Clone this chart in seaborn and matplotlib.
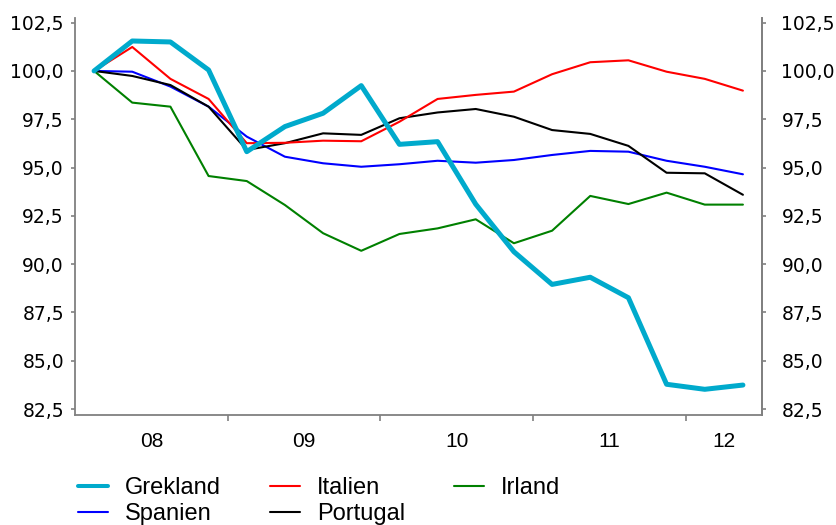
import matplotlib
matplotlib.use("Agg")
import matplotlib.pyplot as plt
from matplotlib import font_manager
from matplotlib.ticker import FixedLocator, FuncFormatter
import seaborn as sns
import pandas as pd

quarters = ["2008Q1", "2008Q2", "2008Q3", "2008Q4", "2009Q1", "2009Q2", "2009Q3", "2009Q4",
            "2010Q1", "2010Q2", "2010Q3", "2010Q4", "2011Q1", "2011Q2", "2011Q3", "2011Q4",
            "2012Q1", "2012Q2"]
grekland = [100.0, 101.55, 101.5, 100.05, 95.82, 97.12, 97.81, 99.24, 96.2, 96.34,
            93.1, 90.64, 88.95, 89.32, 88.26, 83.78, 83.52, 83.74]
italien = [100.0, 101.24, 99.59, 98.55, 96.26, 96.28, 96.39, 96.36, 97.37, 98.55,
           98.76, 98.93, 99.83, 100.45, 100.55, 99.96, 99.59, 98.98]
irland = [100.0, 98.36, 98.15, 94.56, 94.30, 93.06, 91.6, 90.69, 91.56, 91.85,
          92.32, 91.08, 91.73, 93.53, 93.11, 93.70, 93.08, 93.08]
spanien = [100.0, 99.96, 99.19, 98.15, 96.6, 95.56, 95.22, 95.04, 95.17, 95.35,
           95.25, 95.39, 95.65, 95.86, 95.82, 95.35, 95.04, 94.65]
portugal = [100.0, 99.74, 99.27, 98.15, 95.91, 96.26, 96.77, 96.69, 97.55, 97.85,
            98.03, 97.63, 96.94, 96.74, 96.12, 94.73, 94.70, 93.59]
year_labels = ["08", "09", "10", "11", "12"]
y_ticks = [82.5, 85.0, 87.5, 90.0, 92.5, 95.0, 97.5, 100.0, 102.5]

series = {"Grekland": grekland, "Italien": italien, "Irland": irland,
          "Spanien": spanien, "Portugal": portugal}
colors = {"Grekland": "#00AACC", "Italien": "#FF0000", "Irland": "#008000",
          "Spanien": "#0000FF", "Portugal": "#000000"}
widths = {"Grekland": 3.6, "Italien": 1.5, "Irland": 1.5, "Spanien": 1.5, "Portugal": 1.5}

sns.set_theme(style="white")
avail = {f.name for f in font_manager.fontManager.ttflist}
sansf = "Liberation Sans" if "Liberation Sans" in avail else "DejaVu Sans"
plt.rcParams["font.family"] = ["DejaVu Sans"]
plt.rcParams["text.color"] = "black"

rows = []
for name, vals in series.items():
    for i, (q, v) in enumerate(zip(quarters, vals)):
        rows.append({"quarter": q, "pos": i + 0.5, "value": v, "land": name})
df = pd.DataFrame(rows)

fig = plt.figure(figsize=(8.36, 5.25), dpi=100)
ax = fig.add_axes([75 / 836, 1 - 415 / 525, (762 - 75) / 836, (415 - 18) / 525])

draw_order = ["Irland", "Spanien", "Portugal", "Italien", "Grekland"]
for name in draw_order:
    sub = df[df["land"] == name]
    sns.lineplot(data=sub, x="pos", y="value", ax=ax, color=colors[name],
                 linewidth=widths[name], label=name, legend=False)

ax.set_xlim(0, len(quarters))
ax.set_ylim(82.19, 102.74)
ax.set_xlabel("")
ax.set_ylabel("")

years = sorted(set(q[:4] for q in quarters))
bounds = [i for i, q in enumerate(quarters) if q.endswith("Q1") and i > 0]
centres = []
for y in years:
    idx = [i for i, q in enumerate(quarters) if q.startswith(y)]
    centres.append((idx[0] + idx[-1] + 1) / 2)
ax.xaxis.set_major_locator(FixedLocator(bounds))
ax.xaxis.set_major_formatter(FuncFormatter(lambda v, p: ""))
ax.xaxis.set_minor_locator(FixedLocator(centres))
ax.set_xticklabels(year_labels, minor=True)
ax.tick_params(axis="x", which="major", direction="out", length=4, width=1.2,
               color="#808080", bottom=True)
ax.tick_params(axis="x", which="minor", length=0, pad=12, labelsize=15, labelcolor="black")
for t in ax.get_xticklabels(minor=True):
    t.set_fontfamily(sansf)

fmt = FuncFormatter(lambda v, p: f"{v:.1f}".replace(".", ","))
ax.set_yticks(y_ticks)
ax.yaxis.set_major_formatter(fmt)
ax.tick_params(axis="y", which="major", direction="out", length=3, width=1.2,
               color="#808080", left=True, labelsize=13.5, pad=5, labelcolor="black")
ax2 = ax.twinx()
ax2.set_ylim(ax.get_ylim())
ax2.set_yticks(y_ticks)
ax2.yaxis.set_major_formatter(fmt)
ax2.tick_params(axis="y", which="major", direction="out", length=3, width=1.2,
                color="#808080", right=True, labelsize=13.5, pad=11, labelcolor="black")
ax2.grid(False)
ax.grid(False)

for a in (ax, ax2):
    a.spines["top"].set_visible(False)
    for s in ("left", "right", "bottom"):
        a.spines[s].set_color("#808080")
        a.spines[s].set_linewidth(1.3)
ax2.spines["bottom"].set_visible(False)
ax2.spines["left"].set_visible(False)

handles = {l.get_label(): l for l in ax.get_lines()}
order = ["Grekland", "Spanien", "Italien", "Portugal", "Irland"]
fs = 17
fpx = fs * 100 / 72
leg = fig.legend([handles[k] for k in order], order, ncol=3, loc="upper left",
                 bbox_to_anchor=(78 / 836, 1 - 477 / 525), frameon=False,
                 prop={"family": sansf, "size": fs}, handlelength=30 / fpx,
                 handletextpad=17 / fpx, columnspacing=49 / fpx, labelspacing=0.185,
                 borderaxespad=0, borderpad=0, labelcolor="black")
for line in leg.get_lines():
    line.set_linewidth(2.9 if line.get_label() == "Grekland" else 1.5)

fig.savefig("out.png", dpi=100)
